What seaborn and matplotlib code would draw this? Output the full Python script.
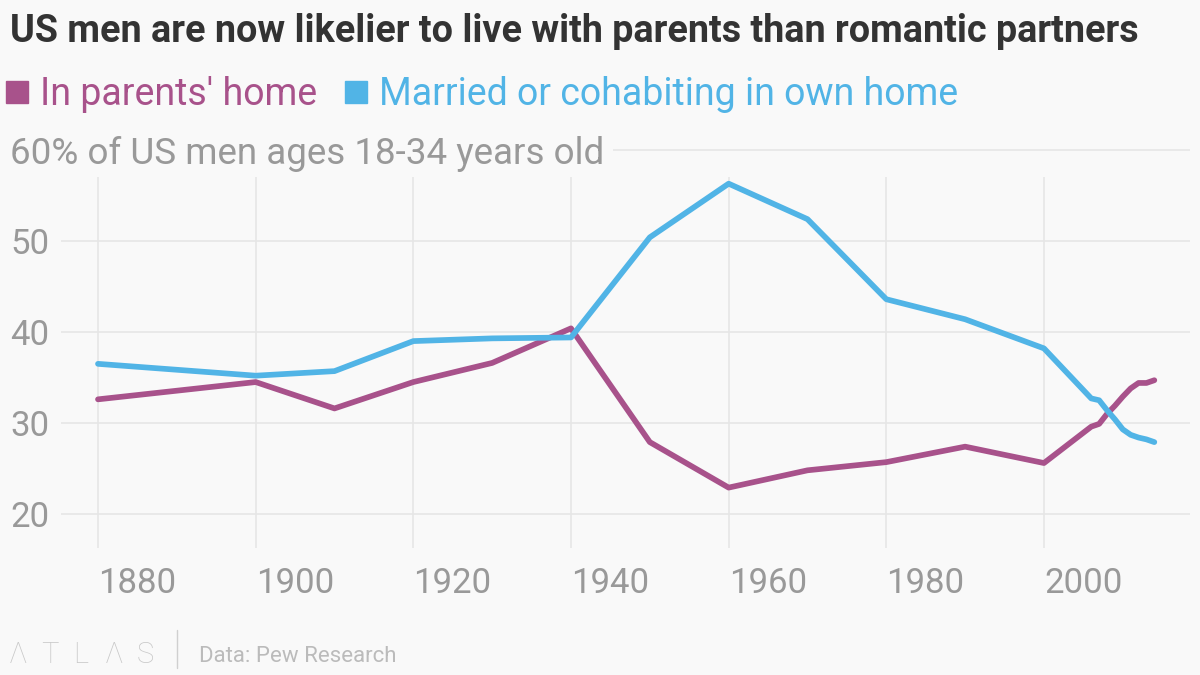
import matplotlib
matplotlib.use("Agg")
import matplotlib.pyplot as plt
from matplotlib.lines import Line2D
import pandas as pd
import seaborn as sns

# values (share of US men 18-34, %)
years = [1880, 1900, 1910, 1920, 1930, 1940, 1950, 1960, 1970, 1980, 1990, 2000,
         2006, 2007, 2008, 2009, 2010, 2011, 2012, 2013, 2014]
in_parents_home = [32.6, 34.5, 31.6, 34.5, 36.6, 40.4, 27.9, 22.9, 24.8, 25.7, 27.4, 25.6,
                   29.6, 29.9, 31.0, 31.9, 32.9, 33.8, 34.4, 34.4, 34.7]
married_own_home = [36.5, 35.2, 35.7, 39.0, 39.3, 39.4, 50.4, 56.3, 52.4, 43.6, 41.4, 38.2,
                    32.7, 32.5, 31.4, 30.4, 29.3, 28.7, 28.4, 28.2, 27.9]
series_names = ["In parents' home", "Married or cohabiting in own home"]

x_ticks = [1880, 1900, 1920, 1940, 1960, 1980, 2000]
y_ticks = [20, 30, 40, 50, 60]
y_tick_labels = ["20", "30", "40", "50", "60% of US men ages 18-34 years old"]

title = "US men are now likelier to live with parents than romantic partners"
source = "Data: Pew Research"

PURPLE = "#a8528b"
BLUE = "#51b4e6"
BG = "#f9f9f9"
GRID = "#e6e6e6"
GREY = "#999999"

sns.set_theme(style="white")
plt.rcParams["font.family"] = ["Roboto", "DejaVu Sans"]

n = len(years)
df = pd.DataFrame({
    "year": years * 2,
    "share": in_parents_home + married_own_home,
    "series": [series_names[0]] * n + [series_names[1]] * n,
})

W, H = 1200, 675
fig = plt.figure(figsize=(12, 6.75), dpi=100, facecolor=BG)
ax = fig.add_axes([61 / W, 1 - 548 / H, (1190 - 61) / W, (548 - 150) / H], facecolor=BG)

sns.lineplot(data=df, x="year", y="share", hue="series", palette=[PURPLE, BLUE],
             linewidth=4.1, legend=False, ax=ax, sort=False, zorder=3)

px_year = 7.883
px_unit = 9.1
x0 = 1880 - 37 / px_year
x1 = 1880 + (1190 - 98) / px_year
y0 = 60 - 398 / px_unit
ax.set_xlim(x0, x1)
ax.set_ylim(y0, 60)

# gridlines
ax.hlines([20, 30, 40, 50], x0, x1, color=GRID, lw=1.2, zorder=0)
ax.hlines(60, 1880 + (613 - 98) / px_year, x1, color=GRID, lw=1.2, zorder=0, clip_on=False)
ax.vlines(x_ticks, y0, 60 - 27 / px_unit, color=GRID, lw=1.2, zorder=0)

ax.set_xticks(x_ticks, [str(t) for t in x_ticks])
ax.set_yticks(y_ticks, y_tick_labels)
ax.tick_params(length=0, labelsize=25, labelcolor=GREY)
ax.tick_params(axis="x", pad=14)
ax.tick_params(axis="y", pad=36.7)
for lab in ax.get_yticklabels():
    lab.set_ha("left")
ax.get_yticklabels()[-1].set_fontsize(26.5)
for lab in ax.get_xticklabels():
    lab.set_ha("left")
ax.set_xlabel("")
ax.set_ylabel("")
sns.despine(ax=ax, left=True, bottom=True)

# title and legend
fig.text(10 / W, 1 - 42 / H, title, fontsize=27.2, fontweight="bold", color="#333333",
         va="baseline", ha="left")

handles = [Line2D([], [], marker="s", linestyle="", markersize=16, color=c)
           for c in (PURPLE, BLUE)]
fig.legend(handles, series_names, loc="upper left", bbox_to_anchor=(6 / W, 1 - 76 / H),
           ncol=2, frameon=False, fontsize=27, labelcolor=[PURPLE, BLUE],
           handlelength=0.6, handletextpad=0.3, columnspacing=0.75, borderpad=0,
           borderaxespad=0)

# footer
for i, ch in enumerate("ΛTLΛS"):
    fig.text((9 + i * 32) / W, 1 - 663 / H, ch, fontsize=21, fontweight="light",
             color="#c8c8c8", va="baseline", ha="left")
fig.add_artist(Line2D([177 / W, 177 / W], [1 - 630 / H, 1 - 668 / H], color="#d0d0d0", lw=1))
fig.text(199 / W, 1 - 662 / H, source, fontsize=16, color="#bbbbbb", va="baseline", ha="left")

fig.savefig("out.png", dpi=100, facecolor=BG)
